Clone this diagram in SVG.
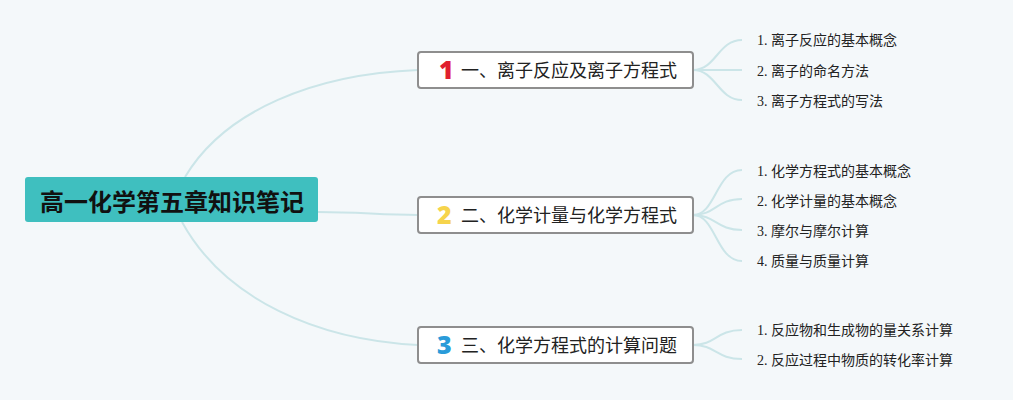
<svg xmlns="http://www.w3.org/2000/svg" width="1013" height="400" viewBox="0 0 1013 400">
<style>
.bg{fill:#f4f8fa}
.conn{fill:none;stroke:#cbe5e8;stroke-width:2}
.root{fill:#3fbfbf}
.roott{font-family:"Noto Sans CJK SC",sans-serif;font-weight:bold;font-size:24px;fill:#111;text-anchor:middle}
.box{fill:#fff;stroke:#8e8e8e;stroke-width:2}
.bt{font-family:"Noto Sans CJK SC",sans-serif;font-size:18px;fill:#222}
.num{font-family:"Noto Sans","Liberation Sans",sans-serif;font-weight:900;font-size:25px}
.leaf{font-family:"Liberation Serif","Noto Sans CJK SC",serif;font-size:14px;fill:#222}
</style>
<rect class="bg" x="0" y="0" width="1013" height="400"/>
<g id="connectors">
<path class="conn" d="M185,177 C225,110 315,74 418,70"/>
<path class="conn" d="M318,212 C360,212 380,215 418,215"/>
<path class="conn" d="M182,222 C225,300 318,340 418,345"/>
<path class="conn" d="M693,70 C716,70 718,40 742,40"/>
<path class="conn" d="M693,70 C716,70 718,70 742,70"/>
<path class="conn" d="M693,70 C716,70 718,100 742,100"/>
<path class="conn" d="M693,215 C716,215 716,170 742,170"/>
<path class="conn" d="M693,215 C716,215 716,199 742,199"/>
<path class="conn" d="M693,215 C716,215 716,230 742,230"/>
<path class="conn" d="M693,215 C716,215 716,261 742,261"/>
<path class="conn" d="M693,345 C716,345 716,330 742,330"/>
<path class="conn" d="M693,345 C716,345 716,359 742,359"/>
</g>
<g id="root">
<rect class="root" x="25" y="177" width="293" height="45" rx="3"/>
<text class="roott" x="172" y="211">高一化学第五章知识笔记</text>
</g>
<g id="b1">
<rect class="box" x="418" y="52" width="275" height="36" rx="3"/>
<text class="num" x="439" y="79" fill="#e0202e">1</text>
<text class="bt" x="461" y="77">一、离子反应及离子方程式</text>
</g>
<g id="b2">
<rect class="box" x="418" y="197" width="275" height="36" rx="3"/>
<text class="num" x="437" y="224" fill="#f6d44c">2</text>
<text class="bt" x="461" y="222">二、化学计量与化学方程式</text>
</g>
<g id="b3">
<rect class="box" x="418" y="327" width="275" height="36" rx="3"/>
<text class="num" x="437" y="354" fill="#2a9bd9">3</text>
<text class="bt" x="461" y="352">三、化学方程式的计算问题</text>
</g>
<g id="l1"><text class="leaf" x="757" y="45">1. 离子反应的基本概念</text></g>
<g id="l2"><text class="leaf" x="757" y="76">2. 离子的命名方法</text></g>
<g id="l3"><text class="leaf" x="757" y="106">3. 离子方程式的写法</text></g>
<g id="l4"><text class="leaf" x="757" y="176">1. 化学方程式的基本概念</text></g>
<g id="l5"><text class="leaf" x="757" y="206">2. 化学计量的基本概念</text></g>
<g id="l6"><text class="leaf" x="757" y="236">3. 摩尔与摩尔计算</text></g>
<g id="l7"><text class="leaf" x="757" y="266">4. 质量与质量计算</text></g>
<g id="l8"><text class="leaf" x="757" y="335">1. 反应物和生成物的量关系计算</text></g>
<g id="l9"><text class="leaf" x="757" y="365">2. 反应过程中物质的转化率计算</text></g>
</svg>
